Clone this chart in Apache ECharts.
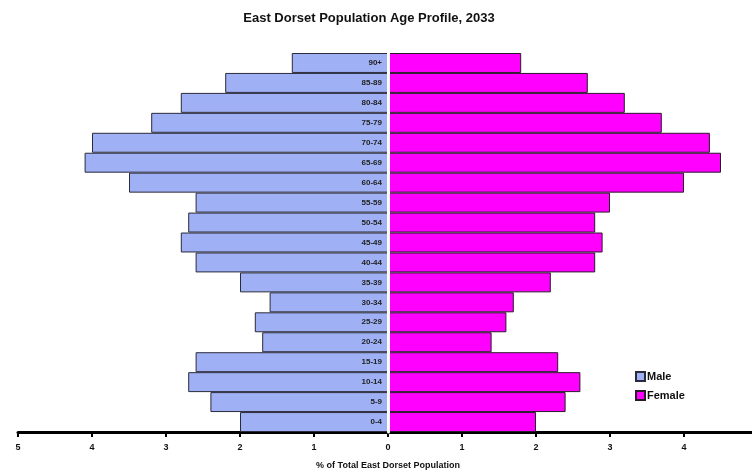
<!DOCTYPE html>
<html>
<head>
<meta charset="utf-8">
<script src="https://cdn.jsdelivr.net/npm/echarts@6/dist/echarts.min.js"></script>
<style>html,body{margin:0;padding:0;background:#fff}#c{width:752px;height:474px}</style>
</head>
<body>
<div id="c"></div>
<script>
var categories = ['0-4','5-9','10-14','15-19','20-24','25-29','30-34','35-39','40-44','45-49','50-54','55-59','60-64','65-69','70-74','75-79','80-84','85-89','90+'];
var male = [2.0,2.4,2.7,2.6,1.7,1.8,1.6,2.0,2.6,2.8,2.7,2.6,3.5,4.1,4.0,3.2,2.8,2.2,1.3];
var female = [2.0,2.4,2.6,2.3,1.4,1.6,1.7,2.2,2.8,2.9,2.8,3.0,4.0,4.5,4.35,3.7,3.2,2.7,1.8];
var xTicks = [-5,5,1];

var chart = echarts.init(document.getElementById('c'));
var font = 'Liberation Sans, Arial, sans-serif';
chart.setOption({
  backgroundColor: '#fff',
  animation: false,
  title: {
    text: 'East Dorset Population Age Profile, 2033',
    left: 364, top: 7, textAlign: 'center',
    textStyle: {fontFamily: font, fontSize: 13, fontWeight: 'bold', color: '#111'}
  },
  legend: {
    orient: 'vertical', left: 630, top: 366,
    itemWidth: 9, itemHeight: 9, itemGap: 8,
    icon: 'rect',
    textStyle: {fontFamily: font, fontSize: 11, fontWeight: 'bold', color: '#111', padding: [0,0,0,-3]},
    data: ['Male','Female']
  },
  grid: {left: 18, width: 740, top: 53, bottom: 42, outerBoundsMode: 'none', containLabel: false},
  xAxis: {
    type: 'value', min: xTicks[0], max: xTicks[1], interval: xTicks[2],
    name: '% of Total East Dorset Population', nameLocation: 'middle', nameGap: 29,
    nameTextStyle: {fontFamily: font, fontSize: 9, fontWeight: 'bold', color: '#111'},
    splitLine: {show: false},
    axisLine: {show: true, lineStyle: {color: '#000', width: 3}},
    axisTick: {show: true, length: 5, lineStyle: {color: '#000', width: 2}},
    axisLabel: {margin: 11, fontFamily: font, fontSize: 9, fontWeight: 'bold', color: '#111',
      formatter: function (v) { return Math.abs(v); }}
  },
  yAxis: {
    type: 'category', data: categories, z: 10,
    axisLine: {show: true, onZero: true, lineStyle: {color: '#fff', width: 3}},
    axisTick: {show: false},
    axisLabel: {show: false}
  },
  series: [
    {
      name: 'Male', type: 'bar', stack: 'pop', barCategoryGap: '0%',
      data: male.map(function (v) { return -v; }),
      itemStyle: {color: '#9fb1f4', borderColor: '#2a2a3a', borderWidth: 1},
      label: {
        show: true, position: 'insideRight', distance: 6,
        fontFamily: font, fontSize: 8, fontWeight: 'bold', color: '#222',
        formatter: function (p) { return categories[p.dataIndex]; }
      }
    },
    {
      name: 'Female', type: 'bar', stack: 'pop', barCategoryGap: '0%',
      data: female,
      itemStyle: {color: '#ff00ff', borderColor: '#2a1a2a', borderWidth: 1}
    }
  ]
});
</script>
</body>
</html>
